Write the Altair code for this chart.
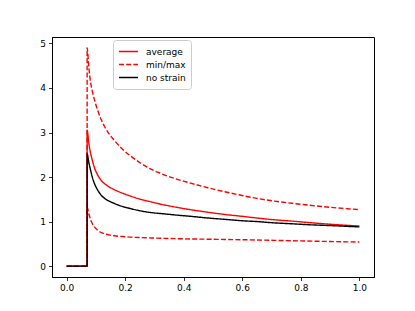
import altair as alt
import pandas as pd

# shared x positions (step at x=0.07)
x_vals = [0, 0.07, 0.07, 0.076, 0.082, 0.088, 0.094, 0.105, 0.116, 0.13, 0.145, 0.162,
          0.19, 0.219, 0.253, 0.29, 0.322, 0.368, 0.42, 0.482, 0.54, 0.596, 0.65,
          0.71, 0.77, 0.824, 0.9, 1.0]

average = [0, 0, 3.05, 2.75, 2.53, 2.37, 2.23, 2.06, 1.94, 1.85, 1.78, 1.72,
           1.64, 1.57, 1.50, 1.44, 1.39, 1.33, 1.27, 1.21, 1.16, 1.12, 1.08,
           1.04, 1.01, 0.98, 0.94, 0.90]
no_strain = [0, 0, 2.52, 2.32, 2.15, 1.99, 1.87, 1.72, 1.61, 1.52, 1.46, 1.41,
             1.34, 1.29, 1.24, 1.20, 1.18, 1.15, 1.12, 1.08, 1.05, 1.02, 1.00,
             0.97, 0.95, 0.93, 0.91, 0.88]
maximum = [0, 0, 4.9, 4.45, 4.12, 3.92, 3.76, 3.52, 3.32, 3.13, 2.97, 2.83,
           2.63, 2.47, 2.31, 2.17, 2.08, 1.97, 1.87, 1.76, 1.67, 1.59, 1.52,
           1.46, 1.41, 1.37, 1.32, 1.27]
minimum = [0, 0, 1.33, 1.17, 1.04, 0.95, 0.89, 0.81, 0.76, 0.725, 0.70, 0.68,
           0.665, 0.65, 0.64, 0.632, 0.625, 0.617, 0.61, 0.604, 0.598, 0.592, 0.586,
           0.578, 0.57, 0.562, 0.552, 0.54]

series_labels = ["average", "min/max", "no strain"]

rows = []
for name, label, ys in [("average", "average", average),
                        ("max", "min/max", maximum),
                        ("min", "min/max", minimum),
                        ("no strain", "no strain", no_strain)]:
    for i, (x, y) in enumerate(zip(x_vals, ys)):
        rows.append({"x": x, "y": y, "line": name, "series": label, "i": i})
df = pd.DataFrame(rows)

font = "DejaVu Sans"

chart = alt.Chart(df).mark_line(strokeWidth=1.4, interpolate="monotone").encode(
    x=alt.X("x:Q", scale=alt.Scale(domain=[-0.05, 1.05], nice=False, zero=False),
            axis=alt.Axis(values=[0, 0.2, 0.4, 0.6, 0.8, 1.0], format=".1f", title=None)),
    y=alt.Y("y:Q", scale=alt.Scale(domain=[-0.245, 5.145], nice=False, zero=False),
            axis=alt.Axis(values=[0, 1, 2, 3, 4, 5], format="d", title=None)),
    color=alt.Color("series:N",
                    scale=alt.Scale(domain=series_labels, range=["#ff0000", "#ff0000", "#000000"]),
                    legend=alt.Legend(title=None, orient="none", legendX=61, legendY=3,
                                      symbolType="stroke", symbolSize=361, symbolStrokeWidth=1.5,
                                      labelFont=font, labelFontSize=9, labelColor="black",
                                      fillColor="white", strokeColor="#cccccc", cornerRadius=3,
                                      padding=5, rowPadding=0, labelOffset=7, clipHeight=13)),
    strokeDash=alt.StrokeDash("series:N",
                              scale=alt.Scale(domain=series_labels, range=[[1, 0], [5, 2.2], [1, 0]]),
                              legend=alt.Legend(title=None)),
    detail="line:N",
    order="i:Q",
).properties(
    width=322, height=240,
    padding={"left": 44, "top": 29, "right": 10, "bottom": 30},
    autosize=alt.AutoSizeParams(type="none"),
).configure_axis(
    grid=False, domainColor="black", tickColor="black", tickSize=3.5,
    labelFont=font, labelFontSize=9, labelColor="black", labelPadding=3,
    domainWidth=1, tickWidth=0.8,
).configure_view(
    stroke="black", strokeWidth=1,
)

chart.save("out.html", embed_options={"renderer": "svg", "actions": False})
